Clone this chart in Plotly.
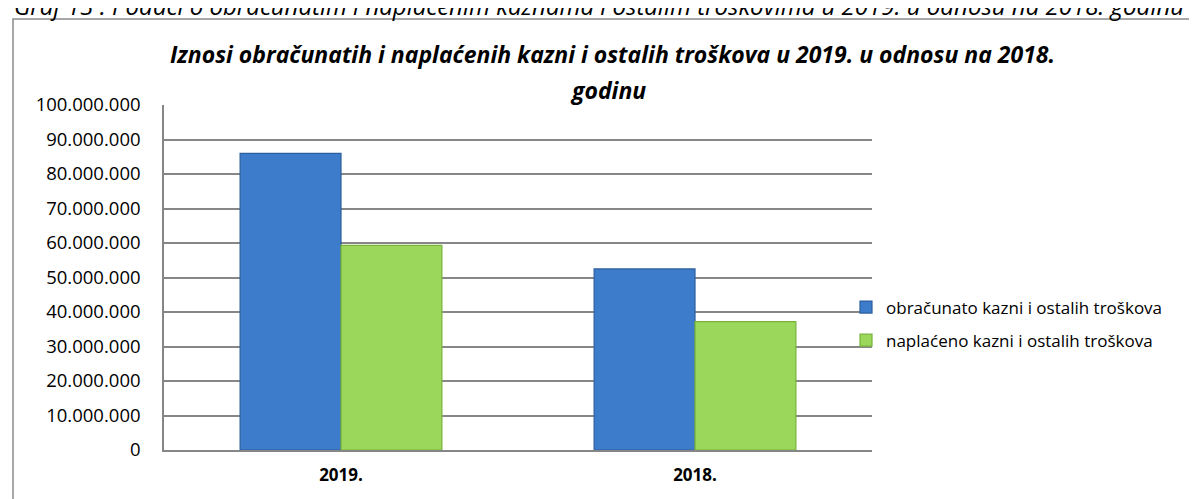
import plotly.graph_objects as go

categories = ["2019.", "2018."]
obracunato = [86_000_000, 52_500_000]
naplaceno = [59_300_000, 37_200_000]
series_names = ["obračunato kazni i ostalih troškova", "naplaćeno kazni i ostalih troškova"]
y_ticks = list(range(0, 100_000_001, 10_000_000))

W, H = 1197, 499
L, R, T, B = 156, 864, 97, 442  # plot area in pixels


def px_x(p):
    return (p - L) / (R - L)


def px_y(p):
    return (B - p) / (B - T)


fig = go.Figure()
fig.add_trace(go.Bar(
    x=categories, y=obracunato, name=series_names[0], legendgroup="a",
    marker=dict(color="#3d7cca", line=dict(color="#2c5f9e", width=1.2)),
))
fig.add_trace(go.Bar(
    x=categories, y=naplaceno, name=series_names[1], legendgroup="b",
    marker=dict(color="#9ad75a", line=dict(color="#78b23c", width=1.2)),
))

font_main = "Open Sans, Liberation Sans, sans-serif"

fig.update_layout(
    width=W, height=H,
    margin=dict(l=L, r=W - R, t=T, b=H - B, pad=0),
    paper_bgcolor="white", plot_bgcolor="white",
    separators=",.",
    barmode="group", bargap=0.43, bargroupgap=0,
    font=dict(family=font_main, color="black", size=17),
    showlegend=True,
    legend=dict(
        x=px_x(838), xanchor="left", y=px_y(316), yanchor="middle",
        traceorder="grouped", tracegroupgap=8,
        font=dict(size=17, family=font_main, color="black"),
        bgcolor="rgba(0,0,0,0)", borderwidth=0,
    ),
    xaxis=dict(
        showline=True, linecolor="#868686", linewidth=1.5,
        showgrid=False, ticks="", ticklabelstandoff=9,
        tickfont=dict(size=17, family=font_main, color="black", weight="bold"),
    ),
    yaxis=dict(
        range=[0, 100_000_000], tickvals=y_ticks, tickformat=",d",
        showline=True, linecolor="#868686", linewidth=1.5,
        showgrid=True, gridcolor="#868686", gridwidth=1.5,
        zeroline=False, ticks="", ticklabelstandoff=18,
        tickfont=dict(size=18.5, family=font_main, color="black"),
    ),
)

# chart border
fig.add_shape(type="rect", xref="paper", yref="paper",
              x0=px_x(5), x1=px_x(1205), y0=px_y(510), y1=px_y(11),
              line=dict(color="#8c8c8c", width=1.5), fillcolor="rgba(0,0,0,0)",
              layer="below")

title_font = dict(family=font_main, size=23, color="black", weight="bold", style="italic")
fig.add_annotation(text="Iznosi obračunatih i naplaćenih kazni i ostalih troškova u 2019. u odnosu na 2018.",
                   xref="paper", yref="paper", x=px_x(604), y=px_y(46),
                   xanchor="center", yanchor="middle", showarrow=False, font=title_font)
fig.add_annotation(text="godinu",
                   xref="paper", yref="paper", x=px_x(600), y=px_y(82),
                   xanchor="center", yanchor="middle", showarrow=False, font=title_font)

# caption above the chart (cut off at the top of the picture)
fig.add_annotation(text="Graf 13 : Podaci o obračunatim i naplaćenim kaznama i ostalim troškovima u 2019. u odnosu na 2018. godinu",
                   xref="paper", yref="paper", x=px_x(4), y=px_y(-3),
                   xanchor="left", yanchor="middle", showarrow=False,
                   font=dict(family=font_main, size=24, color="black", style="italic"))

fig.write_html("out.html")
